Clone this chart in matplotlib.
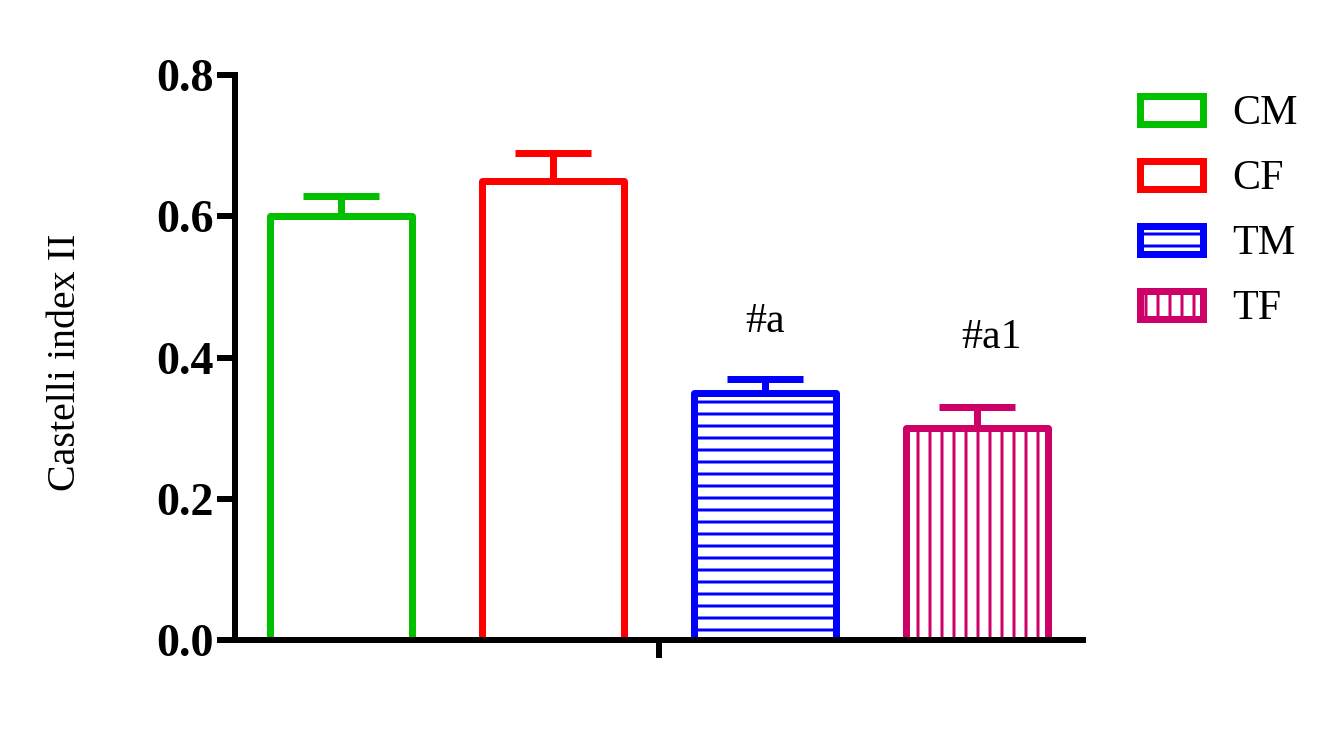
import matplotlib
matplotlib.use("Agg")
import matplotlib.pyplot as plt
import numpy as np

# ---- data ----
groups = ["CM", "CF", "TM", "TF"]
means = [0.60, 0.65, 0.35, 0.30]
errs = [0.029, 0.039, 0.019, 0.030]
colors = ["#00C000", "#FF0000", "#0000FF", "#CC0066"]
hatches = ["", "", "--", "||"]
annot_labels = ["", "", "#a", "#a1"]
annot_y = [None, None, 0.45, 0.428]
annot_dx = [0, 0, 0.0, 0.07]
yticks = [0.0, 0.2, 0.4, 0.6, 0.8]
ylabel = "Castelli index II"

DPI = 144
plt.rcParams["font.family"] = ["Liberation Serif", "DejaVu Serif"]
plt.rcParams["hatch.linewidth"] = 1.5

fig = plt.figure(figsize=(1339 / DPI, 746 / DPI), dpi=DPI)
ax = fig.add_axes([235 / 1339, 1 - 640 / 746, 848 / 1339, 565 / 746])

x = np.arange(len(groups))
bars = ax.bar(x, means, width=0.67, color="white", edgecolor=colors,
              linewidth=3.5, label=groups, zorder=2)
for b, h in zip(bars, hatches):
    b.set_hatch(h)
    b.set_joinstyle("round")

for xi, m, e, c in zip(x, means, errs, colors):
    eb = ax.errorbar(xi, m, yerr=[[0], [e]], fmt="none", ecolor=c,
                     elinewidth=3.5, capsize=19, capthick=3.5, zorder=3)
    for cap in eb[1]:
        cap.set_solid_capstyle("round")

for xi, lab, ay, dx in zip(x, annot_labels, annot_y, annot_dx):
    if lab:
        ax.text(xi + dx, ay, lab, ha="center", va="center", fontsize=21)

ax.set_xlim(-0.5, 3.5)
ax.set_ylim(0, 0.8)
ax.set_yticks(yticks)
ax.set_yticklabels([f"{v:.1f}" for v in yticks], fontweight="bold", fontsize=23)
ax.set_xticks([1.5])
ax.set_xticklabels([""])

for s in ["top", "right"]:
    ax.spines[s].set_visible(False)
for s in ["left", "bottom"]:
    ax.spines[s].set_linewidth(3)
    ax.spines[s].set_zorder(4)
ax.tick_params(axis="both", length=9, width=3, direction="out", pad=1.5)

ax.set_ylabel(ylabel, fontsize=20)
ax.yaxis.set_label_coords(-0.178, 0.492)

handles = list(bars)
leg = fig.legend(handles, groups, loc="upper left",
                 bbox_to_anchor=(1140 / 1339, 1 - 95 / 746),
                 frameon=False, fontsize=21, borderpad=0, borderaxespad=0,
                 handlelength=1.5, handleheight=0.65, handletextpad=0.7,
                 labelspacing=0.63)

fig.savefig("out.png", dpi=DPI)
